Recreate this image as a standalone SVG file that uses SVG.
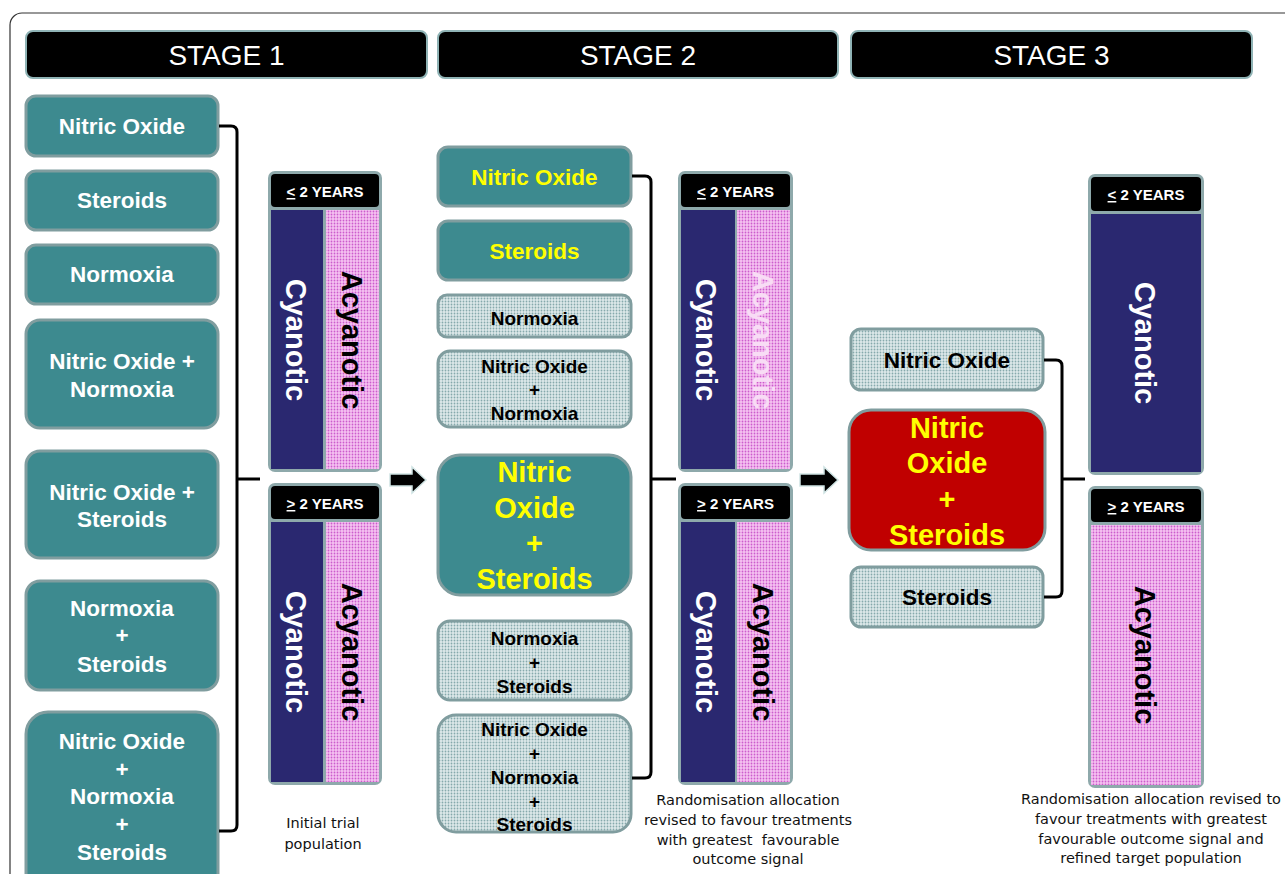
<svg xmlns="http://www.w3.org/2000/svg" width="1285" height="874" viewBox="0 0 1285 874">
<defs>
<pattern id="dotTeal" width="3" height="3" patternUnits="userSpaceOnUse">
<rect width="3" height="3" fill="#dde9ea"/>
<circle cx="1.5" cy="1.5" r="0.9" fill="#86a9ac"/>
</pattern>
<pattern id="dotPink" width="3" height="3" patternUnits="userSpaceOnUse">
<rect width="3" height="3" fill="#f6c2f2"/>
<circle cx="1.5" cy="1.5" r="0.9" fill="#cc5ccc"/>
</pattern>
<style>
.hdr{fill:#000;stroke:#8fb3b5;stroke-width:2}
.hdrt{font-family:"Liberation Sans",Arial,sans-serif;font-size:28px;fill:#fff;text-anchor:middle}
.teal{fill:#3d8a8f;stroke:#809d9f;stroke-width:3}
.dot{fill:url(#dotTeal);stroke:#809d9f;stroke-width:3}
.red{fill:#c00000;stroke:#809d9f;stroke-width:3}
.bt{font-family:"Liberation Sans",Arial,sans-serif;font-weight:bold;text-anchor:middle}
.w{fill:#fff}.y{fill:#ffff00}.k{fill:#000}
.f22{font-size:22.5px}.f19{font-size:19px}.f29{font-size:29px}
.yrOut{fill:#8ea9ab}
.yrHead{fill:#000}
.cy{fill:#2a2870}
.pk{fill:url(#dotPink)}
.yt{font-family:"Liberation Sans",Arial,sans-serif;font-weight:bold;font-size:15px;fill:#fff;text-anchor:middle}
.vt{font-family:"Liberation Sans",Arial,sans-serif;font-weight:bold;font-size:29px;text-anchor:middle}
.br{fill:none;stroke:#000;stroke-width:3;stroke-linejoin:round}
.arr{fill:#000;stroke:#cfe3e3;stroke-width:1.5}
.cap{font-family:"DejaVu Sans",Verdana,sans-serif;font-size:14.5px;fill:#111;text-anchor:middle}
</style>
</defs>
<rect x="10" y="13" width="1300" height="900" rx="12" fill="#fff" stroke="#333" stroke-width="1.2"/>

<g id="stage-headers">
<rect class="hdr" x="26" y="31" width="401" height="47" rx="7"/>
<text class="hdrt" x="226.5" y="64.5">STAGE 1</text>
<rect class="hdr" x="438" y="31" width="400" height="47" rx="7"/>
<text class="hdrt" x="638" y="64.5">STAGE 2</text>
<rect class="hdr" x="851" y="31" width="401" height="47" rx="7"/>
<text class="hdrt" x="1051.5" y="64.5">STAGE 3</text>
</g>

<g id="s1-no"><rect class="teal" x="26" y="96" width="192" height="60" rx="10"/><text class="bt w f22" x="122" y="134">Nitric Oxide</text></g>
<g id="s1-st"><rect class="teal" x="26" y="171" width="192" height="59" rx="10"/><text class="bt w f22" x="122" y="208">Steroids</text></g>
<g id="s1-nm"><rect class="teal" x="26" y="245" width="192" height="59" rx="10"/><text class="bt w f22" x="122" y="282">Normoxia</text></g>
<g id="s1-no-nm"><rect class="teal" x="26" y="320" width="192" height="108" rx="14"/><text class="bt w f22" x="122" y="369">Nitric Oxide +</text><text class="bt w f22" x="122" y="397">Normoxia</text></g>
<g id="s1-no-st"><rect class="teal" x="26" y="451" width="192" height="107" rx="14"/><text class="bt w f22" x="122" y="500">Nitric Oxide +</text><text class="bt w f22" x="122" y="527">Steroids</text></g>
<g id="s1-nm-st"><rect class="teal" x="26" y="581" width="192" height="109" rx="14"/><text class="bt w f22" x="122" y="616">Normoxia</text><text class="bt w f22" x="122" y="643">+</text><text class="bt w f22" x="122" y="672">Steroids</text></g>
<g id="s1-all"><rect class="teal" x="26" y="712" width="192" height="190" rx="22"/><text class="bt w f22" x="122" y="749">Nitric Oxide</text><text class="bt w f22" x="122" y="777">+</text><text class="bt w f22" x="122" y="804">Normoxia</text><text class="bt w f22" x="122" y="832">+</text><text class="bt w f22" x="122" y="860">Steroids</text></g>

<g id="s1-young">
<rect class="yrOut" x="268" y="171" width="114" height="301" rx="7"/>
<rect class="yrHead" x="271" y="174" width="108" height="33" rx="4"/>
<text class="yt" x="325" y="197"><tspan text-decoration="underline">&lt;</tspan> 2 YEARS</text>
<rect class="cy" x="271" y="210" width="52" height="259"/>
<rect class="pk" x="326" y="210" width="53" height="259"/>
<text class="vt w" transform="translate(296,340) rotate(90)" dy="0.35em">Cyanotic</text>
<text class="vt k" transform="translate(352,340) rotate(90)" dy="0.35em">Acyanotic</text>
</g>
<g id="s1-old">
<rect class="yrOut" x="268" y="483" width="114" height="302" rx="7"/>
<rect class="yrHead" x="271" y="486" width="108" height="33" rx="4"/>
<text class="yt" x="325" y="509"><tspan text-decoration="underline">&gt;</tspan> 2 YEARS</text>
<rect class="cy" x="271" y="522" width="52" height="260"/>
<rect class="pk" x="326" y="522" width="53" height="260"/>
<text class="vt w" transform="translate(296,652) rotate(90)" dy="0.35em">Cyanotic</text>
<text class="vt k" transform="translate(352,652) rotate(90)" dy="0.35em">Acyanotic</text>
</g>

<g id="s2-no"><rect class="teal" x="438" y="147" width="193" height="59" rx="10"/><text class="bt y f22" x="534.5" y="185">Nitric Oxide</text></g>
<g id="s2-st"><rect class="teal" x="438" y="221" width="193" height="59" rx="10"/><text class="bt y f22" x="534.5" y="259">Steroids</text></g>
<g id="s2-nm"><rect class="dot" x="438" y="295" width="193" height="42" rx="9"/><text class="bt k f19" x="534.5" y="325">Normoxia</text></g>
<g id="s2-no-nm"><rect class="dot" x="438" y="351" width="193" height="76" rx="12"/><text class="bt k f19" x="534.5" y="373">Nitric Oxide</text><text class="bt k f19" x="534.5" y="396">+</text><text class="bt k f19" x="534.5" y="420">Normoxia</text></g>
<g id="s2-no-st"><rect class="teal" x="438" y="455" width="193" height="140" rx="22"/><text class="bt y f29" x="534.5" y="482">Nitric</text><text class="bt y f29" x="534.5" y="518">Oxide</text><text class="bt y f29" x="534.5" y="553">+</text><text class="bt y f29" x="534.5" y="589">Steroids</text></g>
<g id="s2-nm-st"><rect class="dot" x="438" y="621" width="193" height="79" rx="12"/><text class="bt k f19" x="534.5" y="645">Normoxia</text><text class="bt k f19" x="534.5" y="669">+</text><text class="bt k f19" x="534.5" y="693">Steroids</text></g>
<g id="s2-all"><rect class="dot" x="438" y="715" width="193" height="117" rx="18"/><text class="bt k f19" x="534.5" y="736">Nitric Oxide</text><text class="bt k f19" x="534.5" y="760">+</text><text class="bt k f19" x="534.5" y="784">Normoxia</text><text class="bt k f19" x="534.5" y="808">+</text><text class="bt k f19" x="534.5" y="831">Steroids</text></g>

<g id="s2-young">
<rect class="yrOut" x="678" y="171" width="115" height="301" rx="7"/>
<rect class="yrHead" x="681" y="174" width="109" height="33" rx="4"/>
<text class="yt" x="735.5" y="197"><tspan text-decoration="underline">&lt;</tspan> 2 YEARS</text>
<rect class="cy" x="681" y="210" width="54" height="259"/>
<rect class="pk" x="737" y="210" width="53" height="259"/>
<text class="vt w" transform="translate(706,340) rotate(90)" dy="0.35em">Cyanotic</text>
<text class="vt" fill="#f8dcf5" transform="translate(763,340) rotate(90)" dy="0.35em">Acyanotic</text>
</g>
<g id="s2-old">
<rect class="yrOut" x="678" y="483" width="115" height="302" rx="7"/>
<rect class="yrHead" x="681" y="486" width="109" height="33" rx="4"/>
<text class="yt" x="735.5" y="509"><tspan text-decoration="underline">&gt;</tspan> 2 YEARS</text>
<rect class="cy" x="681" y="522" width="54" height="260"/>
<rect class="pk" x="737" y="522" width="53" height="260"/>
<text class="vt w" transform="translate(706,652) rotate(90)" dy="0.35em">Cyanotic</text>
<text class="vt k" transform="translate(763,652) rotate(90)" dy="0.35em">Acyanotic</text>
</g>

<g id="s3-no"><rect class="dot" x="851" y="329" width="192" height="61" rx="10"/><text class="bt k f22" x="947" y="368">Nitric Oxide</text></g>
<g id="s3-no-st"><rect class="red" x="849" y="410" width="196" height="140" rx="22"/><text class="bt y f29" x="947" y="438">Nitric</text><text class="bt y f29" x="947" y="473">Oxide</text><text class="bt y f29" x="947" y="509">+</text><text class="bt y f29" x="947" y="545">Steroids</text></g>
<g id="s3-st"><rect class="dot" x="851" y="567" width="192" height="60" rx="10"/><text class="bt k f22" x="947" y="605">Steroids</text></g>

<g id="s3-young">
<rect class="yrOut" x="1088" y="174" width="116" height="301" rx="7"/>
<rect class="yrHead" x="1091" y="177" width="110" height="34" rx="4"/>
<text class="yt" x="1146" y="200"><tspan text-decoration="underline">&lt;</tspan> 2 YEARS</text>
<rect class="cy" x="1091" y="214" width="110" height="258"/>
<text class="vt w" transform="translate(1145,343) rotate(90)" dy="0.35em">Cyanotic</text>
</g>
<g id="s3-old">
<rect class="yrOut" x="1088" y="486" width="116" height="302" rx="7"/>
<rect class="yrHead" x="1091" y="489" width="110" height="33" rx="4"/>
<text class="yt" x="1146" y="512"><tspan text-decoration="underline">&gt;</tspan> 2 YEARS</text>
<rect class="pk" x="1091" y="525" width="110" height="260"/>
<text class="vt k" transform="translate(1145,655) rotate(90)" dy="0.35em">Acyanotic</text>
</g>

<g id="connectors">
<path class="br" d="M219,126 H231 Q237,126 237,132 V825 Q237,831 231,831 H219 M237,479 H260"/>
<path class="br" d="M632,176 H645 Q651,176 651,182 V772 Q651,778 645,778 H632 M651,479 H676"/>
<path class="br" d="M1044,360 H1056 Q1062,360 1062,366 V591 Q1062,597 1056,597 H1044 M1062,479 H1085"/>
<polygon class="arr" points="390,474 412,474 412,467 426,480 412,493 412,486 390,486"/>
<polygon class="arr" points="800,474 824,474 824,467 838,480 824,493 824,486 800,486"/>
</g>

<g id="captions">
<text class="cap" x="323" y="828">Initial trial</text>
<text class="cap" x="323" y="849">population</text>
<text class="cap" x="748" y="805">Randomisation allocation</text>
<text class="cap" x="748" y="825">revised to favour treatments</text>
<text class="cap" x="748" y="845" xml:space="preserve">with greatest  favourable</text>
<text class="cap" x="748" y="864">outcome signal</text>
<text class="cap" x="1151" y="804">Randomisation allocation revised to</text>
<text class="cap" x="1151" y="824">favour treatments with greatest</text>
<text class="cap" x="1151" y="844">favourable outcome signal and</text>
<text class="cap" x="1151" y="863">refined target population</text>
</g>
</svg>
